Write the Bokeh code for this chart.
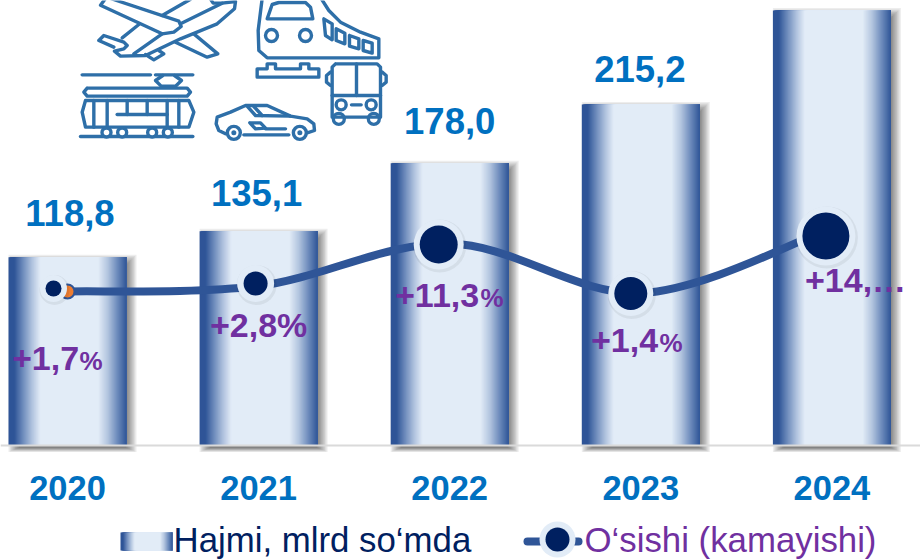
from bokeh.plotting import figure
from bokeh.embed import file_html
from bokeh.resources import INLINE
from bokeh.models import Range1d, LinearAxis, FixedTicker, ColumnDataSource
from bokeh.core.properties import value
import numpy as np

# ---- data
years = ["2020", "2021", "2022", "2023", "2024"]
volume = [118.8, 135.1, 178.0, 215.2, 274.4]
growth = [1.7, 2.8, 11.3, 1.4, 14.4]
volume_labels = ["118,8", "135,1", "178,0", "215,2"]
growth_main = ["+1,7", "+2,8%", "+11,3", "+1,4", "+14,…"]
growth_pct = ["%", "", "%", "%", ""]
series_names = ["Hajmi, mlrd so‘mda", "O‘sishi (kamayishi)"]

# ---- layout
W, H = 920, 560
X0, DX = 67.0, 191.1      # px of first category, px per category
Y0, KY = 445.0, 1.585     # baseline px, px per unit of volume
P0, KP = 299.5, 5.0       # px of 0 %, px per percentage point
BAR_PX = 118
BLUE, DARK, NAVY, PURPLE, PALE = "#0070C0", "#2F5597", "#002060", "#7030A0", "#E2ECF7"
ICON = "#2E6FA8"
FONT = value("Liberation Sans")
BASE_FIX = 0.36           # the text baseline sits this many em lower than asked

xr = Range1d(-X0 / DX, (W - X0) / DX)
yr = Range1d((Y0 - H) / KY, Y0 / KY)
p = figure(width=W, height=H, x_range=xr, y_range=yr, toolbar_location=None,
           output_backend="svg", min_border=0, outline_line_color=None,
           background_fill_color="white", border_fill_color="white")
p.extra_y_ranges = {"pct": Range1d((P0 - H) / KP, P0 / KP)}
p.grid.visible = False
p.yaxis.visible = False

X = lambda px: (np.asarray(px, float) - X0) / DX
Y = lambda py: (Y0 - np.asarray(py, float)) / KY

# ---- x axis on the baseline
ax = p.xaxis[0]
ax.fixed_location = 0
ax.ticker = FixedTicker(ticks=list(range(len(years))))
ax.major_label_overrides = {i: y for i, y in enumerate(years)}
ax.major_tick_line_color = None
ax.minor_tick_line_color = None
ax.axis_line_color = "#DADADA"
ax.axis_line_width = 2
ax.major_label_standoff = 24
ax.major_label_text_font = "Liberation Sans"
ax.major_label_text_font_style = "bold"
ax.major_label_text_font_size = "34.5px"
ax.major_label_text_color = BLUE

# ---- gradient
stops_t = [0.0, 0.05, 0.12, 0.20, 0.27, 0.76, 0.84, 0.92, 1.0]
stops_c = ["#2F5597", "#2F5597", "#6C8ABB", "#B0C3DE", PALE, PALE, "#B3C5DF", "#6F8DBD", "#2F5597"]
rgb = np.array([[int(c[i:i + 2], 16) for i in (1, 3, 5)] for c in stops_c], float)


def grad(t):
    return "#%02X%02X%02X" % tuple(int(round(np.interp(t, stops_t, rgb[:, k]))) for k in range(3))


# ---- soft shadows of the bars
half = BAR_PX / 2 / DX
n_sh = 9
for k in range(n_sh):
    s = 6 - k * 1.3
    sx, sy = s / DX, s / KY
    p.quad(left=[i - half + 6 / DX - sx for i in range(5)],
           right=[i + half + 4 / DX + sx for i in range(5)],
           top=[v - 3.5 / KY + sy for v in volume],
           bottom=[-4 / KY - sy * 0.4] * 5,
           fill_color="#000000", fill_alpha=0.07, line_color=None)

# ---- bars as gradient strips, each running to the bar's right edge
L, R, T, C = [], [], [], []
for i, v in enumerate(volume):
    for j in range(BAR_PX):
        L.append(i - half + j / DX)
        R.append(i + half)
        T.append(v)
        C.append(grad((j + 0.5) / BAR_PX))
p.quad(left="l", right="r", top="t", bottom=0, fill_color="c", line_color=None,
       source=ColumnDataSource(dict(l=L, r=R, t=T, c=C)))

# ---- smoothed growth line
xs = np.arange(len(growth), dtype=float)
ys = np.array(growth, float)
ext_x = np.r_[xs[0], xs, xs[-1]]
ext_y = np.r_[ys[0], ys, ys[-1]]
cx0 = ext_x[1:-2] + (ext_x[2:-1] - ext_x[:-3]) / 6
cy0 = ext_y[1:-2] + (ext_y[2:-1] - ext_y[:-3]) / 6
cx1 = ext_x[2:-1] - (ext_x[3:] - ext_x[1:-2]) / 6
cy1 = ext_y[2:-1] - (ext_y[3:] - ext_y[1:-2]) / 6
p.bezier(x0=xs[:-1], y0=ys[:-1], x1=xs[1:], y1=ys[1:], cx0=cx0, cy0=cy0, cx1=cx1, cy1=cy1,
         line_color=DARK, line_width=8, line_cap="round", y_range_name="pct")
# original chart's marker left visible under the first badge
p.scatter(x=[0], y=[growth[0]], size=14, fill_color="#ED7D31", line_color=DARK, line_width=2,
          y_range_name="pct")

# ---- badges
marker_dx = [-14, -3, -11, -10, -6]
marker_dy = [3, 2.5, -1, -0.5, -8.0]
outer = [27, 37, 50, 45, 59]
inner = [16, 24, 38, 33, 47]
mx = [i + d / DX for i, d in enumerate(marker_dx)]
my = [g + d / KP for g, d in zip(growth, marker_dy)]
p.scatter(x=[m + 1 / DX for m in mx], y=[m - 1.5 / KP for m in my], size=[o + 3 for o in outer],
          fill_color="#000000", fill_alpha=0.06, line_color=None, y_range_name="pct")
p.scatter(x=mx, y=my, size=outer, fill_color=PALE, line_color=None, y_range_name="pct")
p.scatter(x=mx, y=my, size=inner, fill_color=NAVY, line_color=None, y_range_name="pct")

# ---- value labels
vol_dx = [2.5, -2, 0, -1]
vol_dy = [31, 25, 29, 22]
VOL_SZ = 36.5
p.text(x=[i + d / DX for i, d in enumerate(vol_dx)], y=volume[:4], text=volume_labels,
       y_offset=[-d - BASE_FIX * VOL_SZ for d in vol_dy], text_align="center", text_baseline="alphabetic",
       text_font=FONT, text_font_style="bold", text_font_size=f"{VOL_SZ}px", text_color=BLUE)

# ---- growth labels
gl_x = [11.5, 209.5, 394.5, 590.5, 804.5]
gl_y = [370, 337, 307, 352, 292]
pc_x = [79, None, 480, 659, None]
p.text(x=X(gl_x), y=Y(gl_y), text=growth_main, text_align="left", text_baseline="alphabetic",
       y_offset=-BASE_FIX * 34, text_font=FONT, text_font_style="bold", text_font_size="34px",
       text_color=PURPLE)
idx = [i for i, t in enumerate(growth_pct) if t]
p.text(x=X([pc_x[i] for i in idx]), y=Y([gl_y[i] for i in idx]), text=[growth_pct[i] for i in idx],
       y_offset=-BASE_FIX * 26, text_align="left", text_baseline="alphabetic", text_font=FONT,
       text_font_style="bold", text_font_size="26px", text_color=PURPLE)

# ---- legend
LX0, LX1, LY0, LY1 = 120, 172, 532, 550
n = LX1 - LX0
p.quad(left=X([LX0 + j for j in range(n)]), right=X([LX1] * n), top=Y([LY0] * n), bottom=Y([LY1] * n),
       fill_color=[grad((j + 0.5) / n) for j in range(n)], line_color=None)
LEG_SZ = 34.8
p.text(x=X([173]), y=Y([552]), text=[series_names[0]], text_baseline="alphabetic", text_font=FONT,
       y_offset=-BASE_FIX * LEG_SZ, text_font_size=f"{LEG_SZ}px", text_color=NAVY)
p.line(x=X([527, 578]), y=Y([541, 541]), line_color=DARK, line_width=8, line_cap="round")
p.scatter(x=X([557]), y=Y([539]), size=36, fill_color=PALE, line_color=None)
p.scatter(x=X([557]), y=Y([539]), size=24, fill_color=NAVY, line_color=None)
p.text(x=X([584]), y=Y([552]), text=[series_names[1]], text_baseline="alphabetic", text_font=FONT,
       y_offset=-BASE_FIX * LEG_SZ, text_font_size=f"{LEG_SZ}px", text_color=PURPLE)


# ---- transport pictograms (decoration, traced in pixel space)
def path(ox, oy, pts, width=3.4, close=False):
    pts = list(pts) + ([pts[0]] if close else [])
    p.line(x=X([ox + a / 3 for a, b in pts]), y=Y([oy + b / 3 for a, b in pts]),
           line_color=ICON, line_width=width, line_join="round", line_cap="round")


def dot(ox, oy, a, b, size, fill="white", width=3.4):
    p.scatter(x=X([ox + a / 3]), y=Y([oy + b / 3]), size=size, fill_color=fill, line_color=ICON,
              line_width=width)


# plane
O = (90, 0)
path(*O, [(60, -6), (265, 62), (272, 78), (250, 95), (215, 100), (30, 14), (45, -6)])
path(*O, [(215, 45), (300, -4)])
path(*O, [(360, -4), (368, 8), (395, 8), (435, 3), (432, 25), (380, 70), (270, 115), (165, 165),
          (90, 167), (72, 152), (100, 145), (110, 135), (100, 125), (40, 105), (25, 120), (70, 140)])
path(*O, [(270, 70), (395, 8)])
path(*O, [(95, 112), (145, 72)])
path(*O, [(130, 160), (215, 100)])
path(*O, [(255, 125), (350, 170), (382, 160), (310, 100)])
path(*O, [(165, 162), (190, 178), (220, 160), (205, 150)])
# train
O = (250, 0)
path(*O, [(35, -6), (23, 90), (25, 150), (50, 172), (385, 172), (385, 115), (330, 95), (270, 65),
          (235, 30), (212, -6)])
path(*O, [(50, 55), (65, 12), (85, 6), (165, 6), (180, 20), (187, 55)], close=True)
dot(*O, 63, 105, 12)
dot(*O, 165, 105, 12)
for q in ([(220, 55), (245, 70), (245, 118), (225, 105)], [(257, 85), (283, 98), (283, 130), (257, 120)],
          [(297, 105), (325, 115), (325, 145), (297, 137)], [(338, 120), (365, 128), (365, 158), (338, 150)]):
    path(*O, q, close=True)
path(*O, [(20, 205), (50, 205), (50, 190), (75, 190), (75, 205), (150, 205), (150, 190), (175, 190),
          (175, 205), (205, 205), (205, 230), (20, 230)], close=True)
# bus
dot(*O, 265, 355, 11)
dot(*O, 370, 355, 11)
path(*O, [(255, 190), (380, 190), (390, 200), (390, 350), (245, 350), (245, 200)], close=True)
path(*O, [(245, 285), (390, 285)])
path(*O, [(318, 190), (318, 285)])
path(*O, [(240, 215), (228, 225), (228, 245), (240, 255)])
path(*O, [(395, 215), (407, 225), (407, 245), (395, 255)])
dot(*O, 272, 313, 10)
dot(*O, 362, 313, 10)
path(*O, [(303, 313), (332, 313)])
# tram
O = (75, 65)
path(*O, [(20, 28), (225, 28)])
path(*O, [(240, 28), (352, 28)])
path(*O, [(262, 30), (240, 45), (257, 62), (300, 62), (318, 45), (297, 30)])
path(*O, [(35, 68), (335, 68), (345, 80), (335, 92), (35, 92), (25, 80)], close=True)
path(*O, [(30, 105), (340, 105), (355, 140), (340, 185), (30, 185), (20, 140)], close=True)
for vx in (55, 95, 155, 215, 275, 310):
    path(*O, [(vx, 105), (vx, 185 if vx in (55, 95, 275, 310) else 147)])
path(*O, [(125, 147), (275, 147)])
path(*O, [(15, 213), (352, 213)])
for cxp in (93, 140, 230, 277):
    dot(*O, cxp, 201, 9)
# car
O = (210, 95)
path(*O, [(45, 115), (25, 105), (17, 85), (20, 65), (60, 50), (105, 30), (170, 30), (240, 62), (290, 70),
          (310, 85), (312, 105), (290, 112)])
path(*O, [(100, 118), (235, 118)])
path(*O, [(110, 32), (135, 60), (240, 62)])
path(*O, [(130, 33), (155, 60)])
path(*O, [(118, 82), (150, 82), (165, 98), (135, 100)], close=True)
path(*O, [(165, 100), (225, 100)])
dot(*O, 70, 112, 13)
dot(*O, 268, 112, 13)
dot(*O, 70, 112, 5, fill=ICON, width=0)
dot(*O, 268, 112, 5, fill=ICON, width=0)

open("out.html", "w").write(file_html(p, INLINE))
